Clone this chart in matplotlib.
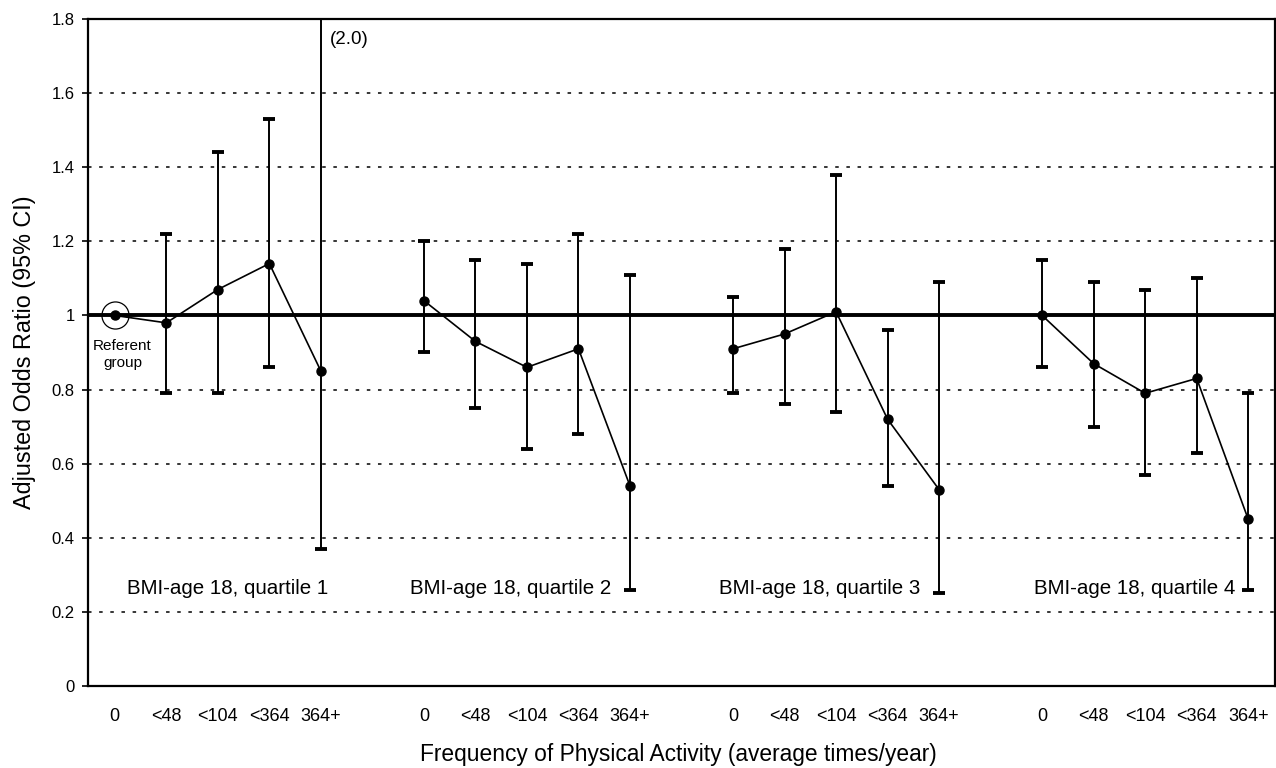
import numpy as np
import matplotlib
matplotlib.use("Agg")
import matplotlib.pyplot as plt

plt.rcParams['font.family'] = ['Liberation Sans', 'DejaVu Sans']

# ---- data ----
freq_labels = ["0", "<48", "<104", "<364", "364+"]
group_names = ["BMI-age 18, quartile 1", "BMI-age 18, quartile 2",
               "BMI-age 18, quartile 3", "BMI-age 18, quartile 4"]

q1_or = [1.00, 0.98, 1.07, 1.14, 0.85]
q1_lo = [np.nan, 0.79, 0.79, 0.86, 0.37]
q1_hi = [np.nan, 1.22, 1.44, 1.53, 2.00]

q2_or = [1.04, 0.93, 0.86, 0.91, 0.54]
q2_lo = [0.90, 0.75, 0.64, 0.68, 0.26]
q2_hi = [1.20, 1.15, 1.14, 1.22, 1.11]

q3_or = [0.91, 0.95, 1.01, 0.72, 0.53]
q3_lo = [0.79, 0.76, 0.74, 0.54, 0.25]
q3_hi = [1.05, 1.18, 1.38, 0.96, 1.09]

q4_or = [1.00, 0.87, 0.79, 0.83, 0.45]
q4_lo = [0.86, 0.70, 0.57, 0.63, 0.26]
q4_hi = [1.15, 1.09, 1.07, 1.10, 0.79]

groups = [(q1_or, q1_lo, q1_hi), (q2_or, q2_lo, q2_hi),
          (q3_or, q3_lo, q3_hi), (q4_or, q4_lo, q4_hi)]

referent_value = 1.0
yticks = [0, 0.2, 0.4, 0.6, 0.8, 1.0, 1.2, 1.4, 1.6, 1.8]
ytick_labels = ["0", "0.2", "0.4", "0.6", "0.8", "1", "1.2", "1.4", "1.6", "1.8"]

# ---- figure ----
fig = plt.figure(figsize=(12.76, 7.68), dpi=100)
ax = fig.add_axes([88/1276, 82/768, 1187/1276, 667/768])

ax.set_xlim(-0.52, 22.52)
ax.set_ylim(0, 1.8)

# dotted gridlines (except at 1, which is the solid referent line)
for yv in yticks[1:-1]:
    if abs(yv - referent_value) > 1e-9:
        ax.axhline(yv, color='black', lw=1.1, ls=(0, (2.3, 5)), zorder=1)
ax.axhline(referent_value, color='black', lw=2.8, zorder=2)

all_x, all_labels = [], []
for g, (orv, lo, hi) in enumerate(groups):
    x = np.arange(5) + g * 6
    orv = np.asarray(orv); lo = np.asarray(lo); hi = np.asarray(hi)
    m = ~np.isnan(lo)
    ax.errorbar(x[m], orv[m], yerr=[orv[m] - lo[m], hi[m] - orv[m]],
                fmt='none', ecolor='black', elinewidth=1.4,
                capsize=4.0, capthick=2.8, zorder=3)
    ax.plot(x, orv, color='black', lw=1.2, marker='o', markersize=6.5,
            zorder=4)
    all_x.extend(x)
    all_labels.extend(freq_labels)

# referent circle
ax.plot([0], [q1_or[0]], marker='o', markersize=19.5, mfc='none',
        mec='black', mew=0.9, zorder=5)
ax.text(0.15, 0.895, "Referent\ngroup", ha='center', va='center',
        fontsize=11, linespacing=1.3)

# clipped upper limit note
ax.text(4.17, 1.745, "(2.0)", ha='left', va='center', fontsize=13.5)

# group labels
label_x = [2.19, 7.69, 13.69, 19.8]
for lx, name in zip(label_x, group_names):
    ax.text(lx, 0.262, name, ha='center', va='center', fontsize=14.8)

ax.set_xticks(all_x)
ax.set_xticklabels(all_labels, fontsize=13)
ax.tick_params(axis='x', length=0, pad=16)
ax.set_yticks(yticks)
ax.set_yticklabels(ytick_labels, fontsize=12)
ax.tick_params(axis='y', length=4, width=1.2, pad=5.5, direction='out')

for s in ax.spines.values():
    s.set_linewidth(1.6)

ax.set_xlabel("Frequency of Physical Activity (average times/year)",
              fontsize=16.4)
ax.xaxis.set_label_coords(0.497, -0.085)
ax.set_ylabel("Adjusted Odds Ratio (95% CI)", fontsize=16.8)
ax.yaxis.set_label_coords(-0.044, 0.5)

fig.savefig("out.png", dpi=100)
